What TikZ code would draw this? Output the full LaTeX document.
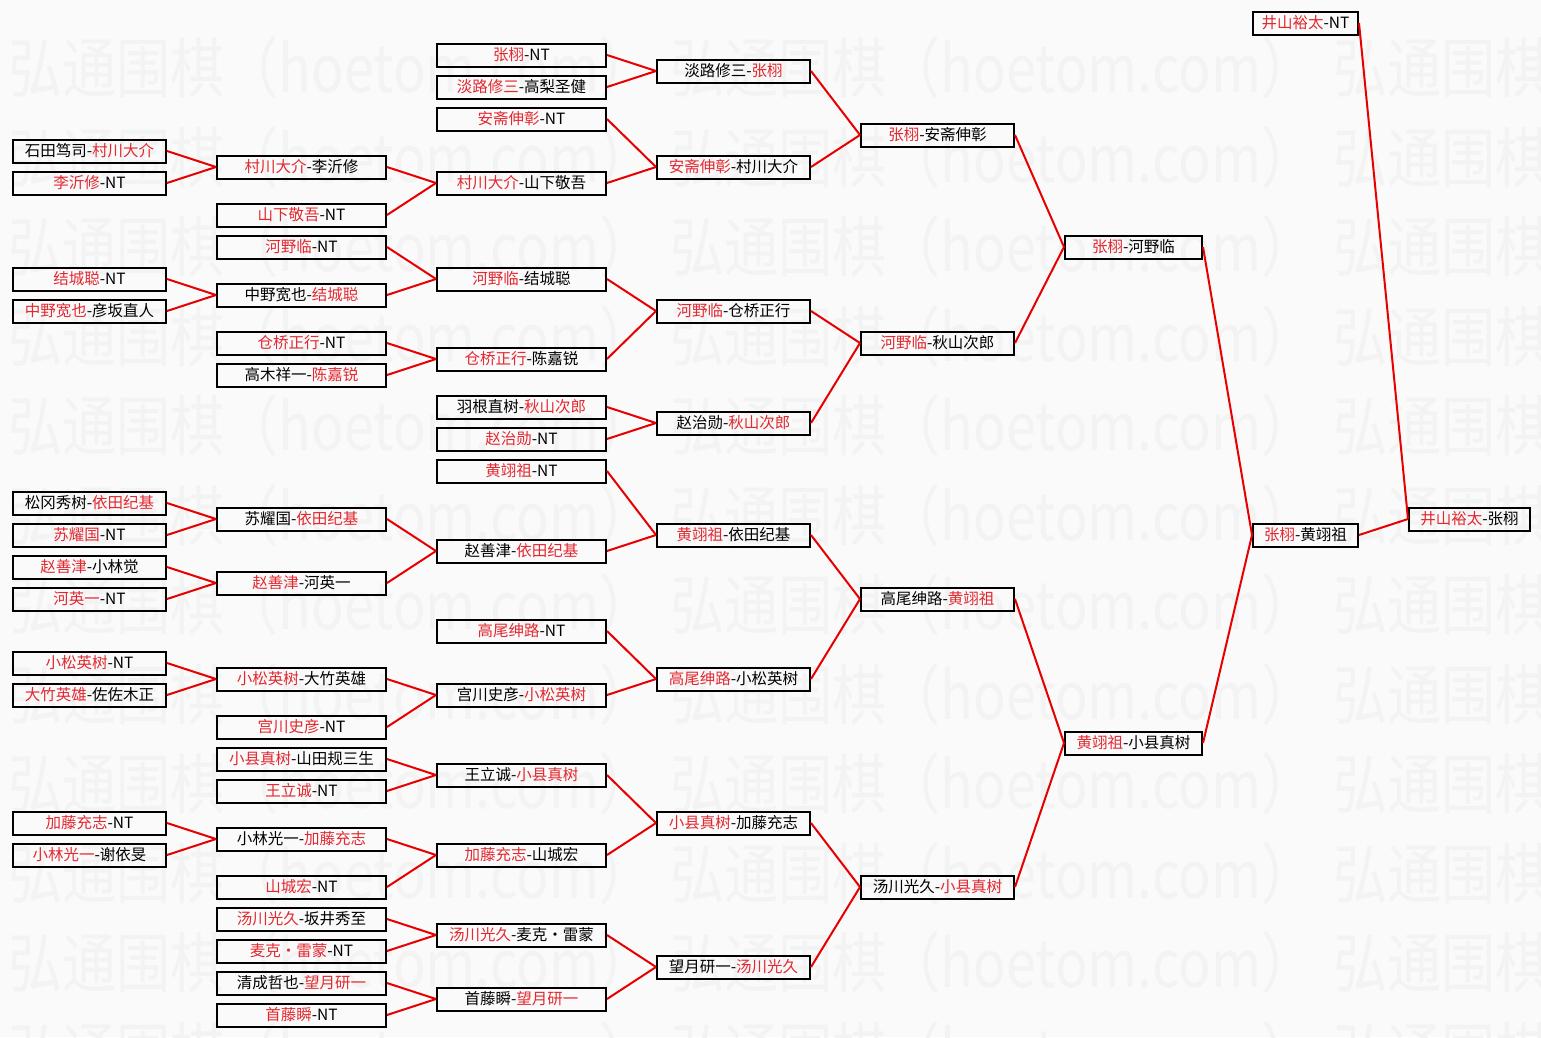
\documentclass[tikz,border=0pt]{standalone}
\usepackage{fontspec}
\usepackage{graphicx}
\setmainfont{Noto Sans CJK SC}
\definecolor{tred}{RGB}{226,40,48}
\definecolor{lred}{RGB}{232,0,0}
\definecolor{bgc}{RGB}{250,250,250}
\definecolor{wmc}{RGB}{243,243,243}
\newcommand\rd[1]{\textcolor{tred}{#1}}
\tikzset{
  bx/.style={draw=black, line width=2pt, minimum height=23pt, inner sep=0pt,
    font=\fontsize{15.5pt}{16pt}\selectfont, text=black},
  c0/.style={minimum width=153pt},
  c1/.style={minimum width=169pt},
  c2/.style={minimum width=169pt},
  c3/.style={minimum width=153pt},
  c4/.style={minimum width=153pt},
  c5/.style={minimum width=137pt},
  c6/.style={minimum width=105pt},
  c7/.style={minimum width=121pt},
  lk/.style={draw=lred, line width=2pt},
  wm/.style={anchor=west, inner sep=0pt, text=wmc}
}
\begin{document}
\begin{tikzpicture}[x=1pt,y=-1pt]
\useasboundingbox (0,0) rectangle (1541,1037);
\fill[bgc] (0,0) rectangle (1541,1037);
% watermark
\foreach \k in {0,...,11}{
  \foreach \x in {8,670,1333}{
    \node[wm] (wm\k-\x) at (\x,{68+89.5*\k}) {\resizebox{645pt}{56pt}{弘通围棋（hoetom.com）}};
  }
}
% column 0
\node[bx,c0] (a1) at (89.5,151) {石田笃司-\rd{村川大介}};
\node[bx,c0] (a2) at (89.5,183) {\rd{李沂修}-NT};
\node[bx,c0] (a3) at (89.5,279) {\rd{结城聪}-NT};
\node[bx,c0] (a4) at (89.5,311) {\rd{中野宽也}-彦坂直人};
\node[bx,c0] (a5) at (89.5,503) {松冈秀树-\rd{依田纪基}};
\node[bx,c0] (a6) at (89.5,535) {\rd{苏耀国}-NT};
\node[bx,c0] (a7) at (89.5,567) {\rd{赵善津}-小林觉};
\node[bx,c0] (a8) at (89.5,599) {\rd{河英一}-NT};
\node[bx,c0] (a9) at (89.5,663) {\rd{小松英树}-NT};
\node[bx,c0] (a10) at (89.5,695) {\rd{大竹英雄}-佐佐木正};
\node[bx,c0] (a11) at (89.5,823) {\rd{加藤充志}-NT};
\node[bx,c0] (a12) at (89.5,855) {\rd{小林光一}-谢依旻};
% column 1
\node[bx,c1] (b1) at (301.5,167) {\rd{村川大介}-李沂修};
\node[bx,c1] (b2) at (301.5,215) {\rd{山下敬吾}-NT};
\node[bx,c1] (b3) at (301.5,247) {\rd{河野临}-NT};
\node[bx,c1] (b4) at (301.5,295) {中野宽也-\rd{结城聪}};
\node[bx,c1] (b5) at (301.5,343) {\rd{仓桥正行}-NT};
\node[bx,c1] (b6) at (301.5,375) {高木祥一-\rd{陈嘉锐}};
\node[bx,c1] (b7) at (301.5,519) {苏耀国-\rd{依田纪基}};
\node[bx,c1] (b8) at (301.5,583) {\rd{赵善津}-河英一};
\node[bx,c1] (b9) at (301.5,679) {\rd{小松英树}-大竹英雄};
\node[bx,c1] (b10) at (301.5,727) {\rd{宫川史彦}-NT};
\node[bx,c1] (b11) at (301.5,759) {\rd{小县真树}-山田规三生};
\node[bx,c1] (b12) at (301.5,791) {\rd{王立诚}-NT};
\node[bx,c1] (b13) at (301.5,839) {小林光一-\rd{加藤充志}};
\node[bx,c1] (b14) at (301.5,887) {\rd{山城宏}-NT};
\node[bx,c1] (b15) at (301.5,919) {\rd{汤川光久}-坂井秀至};
\node[bx,c1] (b16) at (301.5,951) {\rd{麦克·雷蒙}-NT};
\node[bx,c1] (b17) at (301.5,983) {清成哲也-\rd{望月研一}};
\node[bx,c1] (b18) at (301.5,1015) {\rd{首藤瞬}-NT};
% column 2
\node[bx,c2] (c1) at (521.5,55) {\rd{张栩}-NT};
\node[bx,c2] (c2) at (521.5,87) {\rd{淡路修三}-高梨圣健};
\node[bx,c2] (c3) at (521.5,119) {\rd{安斋伸彰}-NT};
\node[bx,c2] (c4) at (521.5,183) {\rd{村川大介}-山下敬吾};
\node[bx,c2] (c5) at (521.5,279) {\rd{河野临}-结城聪};
\node[bx,c2] (c6) at (521.5,359) {\rd{仓桥正行}-陈嘉锐};
\node[bx,c2] (c7) at (521.5,407) {羽根直树-\rd{秋山次郎}};
\node[bx,c2] (c8) at (521.5,439) {\rd{赵治勋}-NT};
\node[bx,c2] (c9) at (521.5,471) {\rd{黄翊祖}-NT};
\node[bx,c2] (c10) at (521.5,551) {赵善津-\rd{依田纪基}};
\node[bx,c2] (c11) at (521.5,631) {\rd{高尾绅路}-NT};
\node[bx,c2] (c12) at (521.5,695) {宫川史彦-\rd{小松英树}};
\node[bx,c2] (c13) at (521.5,775) {王立诚-\rd{小县真树}};
\node[bx,c2] (c14) at (521.5,855) {\rd{加藤充志}-山城宏};
\node[bx,c2] (c15) at (521.5,935) {\rd{汤川光久}-麦克·雷蒙};
\node[bx,c2] (c16) at (521.5,999) {首藤瞬-\rd{望月研一}};
% column 3
\node[bx,c3] (d1) at (733.5,71) {淡路修三-\rd{张栩}};
\node[bx,c3] (d2) at (733.5,167) {\rd{安斋伸彰}-村川大介};
\node[bx,c3] (d3) at (733.5,311) {\rd{河野临}-仓桥正行};
\node[bx,c3] (d4) at (733.5,423) {赵治勋-\rd{秋山次郎}};
\node[bx,c3] (d5) at (733.5,535) {\rd{黄翊祖}-依田纪基};
\node[bx,c3] (d6) at (733.5,679) {\rd{高尾绅路}-小松英树};
\node[bx,c3] (d7) at (733.5,823) {\rd{小县真树}-加藤充志};
\node[bx,c3] (d8) at (733.5,967) {望月研一-\rd{汤川光久}};
% column 4
\node[bx,c4] (e1) at (937.5,135) {\rd{张栩}-安斋伸彰};
\node[bx,c4] (e2) at (937.5,343) {\rd{河野临}-秋山次郎};
\node[bx,c4] (e3) at (937.5,599) {高尾绅路-\rd{黄翊祖}};
\node[bx,c4] (e4) at (937.5,887) {汤川光久-\rd{小县真树}};
% column 5
\node[bx,c5] (f1) at (1133.5,247) {\rd{张栩}-河野临};
\node[bx,c5] (f2) at (1133.5,743) {\rd{黄翊祖}-小县真树};
% column 6
\node[bx,c6] (g0) at (1305.5,23) {\rd{井山裕太}-NT};
\node[bx,c6] (g1) at (1305.5,535) {\rd{张栩}-黄翊祖};
% column 7
\node[bx,c7] (h1) at (1469.5,519) {\rd{井山裕太}-张栩};
% connectors
\foreach \u/\v in {a1/b1,a2/b1,b1/c4,b2/c4,a3/b4,a4/b4,b3/c5,b4/c5,b5/c6,b6/c6,
  a5/b7,a6/b7,a7/b8,a8/b8,b7/c10,b8/c10,a9/b9,a10/b9,b9/c12,b10/c12,
  b11/c13,b12/c13,a11/b13,a12/b13,b13/c14,b14/c14,b15/c15,b16/c15,b17/c16,b18/c16,
  c1/d1,c2/d1,c3/d2,c4/d2,c5/d3,c6/d3,c7/d4,c8/d4,c9/d5,c10/d5,c11/d6,c12/d6,
  c13/d7,c14/d7,c15/d8,c16/d8,d1/e1,d2/e1,d3/e2,d4/e2,d5/e3,d6/e3,d7/e4,d8/e4,
  e1/f1,e2/f1,e3/f2,e4/f2,f1/g1,f2/g1,g0/h1,g1/h1}{
  \draw[lk] (\u.east) -- (\v.west);
}
\end{tikzpicture}
\end{document}
